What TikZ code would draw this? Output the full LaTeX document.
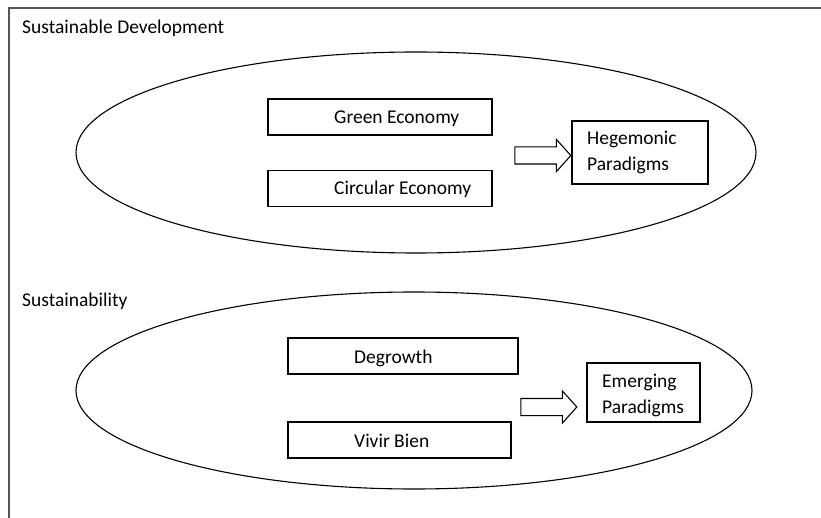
\documentclass[tikz,border=0pt]{standalone}
\usepackage{fontspec}
\setmainfont{Carlito}
\usetikzlibrary{shapes.arrows,shapes.geometric}
\begin{document}
\begin{tikzpicture}[x=1pt,y=-1pt,
  every node/.style={font=\fontsize{19.5}{26}\selectfont, inner sep=0pt},
  boxn/.style={draw, line width=1.1pt, rectangle, minimum width=#1},
  txt/.style={anchor=base west},
  oval/.style={draw, line width=1.1pt, ellipse},
  fatarrow/.style={draw, line width=1.1pt, single arrow, inner xsep=0pt, inner ysep=8pt,
    minimum height=56pt, single arrow head extend=7.5pt, single arrow head indent=0pt,
    single arrow tip angle=96}]
\useasboundingbox (0,0) rectangle (821,518);
\fill[white] (0,0) rectangle (821,518);
\coordinate (fb) at (9,518);
\coordinate (fc) at (9,8);
\coordinate (fr) at (821,8);
\draw[color={rgb,255:red,85;green,85;blue,85}, line width=1.8pt] (fb) -- (fc) -- (fr);

% section titles
\node[txt] (t1) at (22,34) {Sustainable Development};
\node[txt] (t2) at (22,306) {Sustainability};

% ellipses
\node[oval, minimum width=680pt, minimum height=201pt] (e1) at (416,152.5) {};
\node[oval, minimum width=676pt, minimum height=197pt] (e2) at (414,390.5) {};

% top boxes
\node[boxn=224pt, minimum height=36pt] (ge) at (380,117) {};
\node[txt] (get) at (334,124) {Green Economy};
\node[boxn=224pt, minimum height=36pt] (ce) at (380,188.5) {};
\node[txt] (cet) at (334,195) {Circular Economy};
\node[boxn=136pt, minimum height=63pt] (hp) at (640,152.5) {};
\node[txt] (hpt1) at (587,145) {Hegemonic};
\node[txt] (hpt2) at (587,171) {Paradigms};
\node[fatarrow] (a1) at (539,155.5) {};

% bottom boxes
\node[boxn=230pt, minimum height=36pt] (dg) at (403,356) {};
\node[txt] (dgt) at (354,363) {Degrowth};
\node[boxn=223pt, minimum height=36pt] (vb) at (399.5,440) {};
\node[txt] (vbt) at (354,447) {Vivir Bien};
\node[boxn=113pt, minimum height=59pt] (ep) at (643.5,392.5) {};
\node[txt] (ept1) at (602,387) {Emerging};
\node[txt] (ept2) at (602,413) {Paradigms};
\node[fatarrow] (a2) at (545,407) {};
\end{tikzpicture}
\end{document}
